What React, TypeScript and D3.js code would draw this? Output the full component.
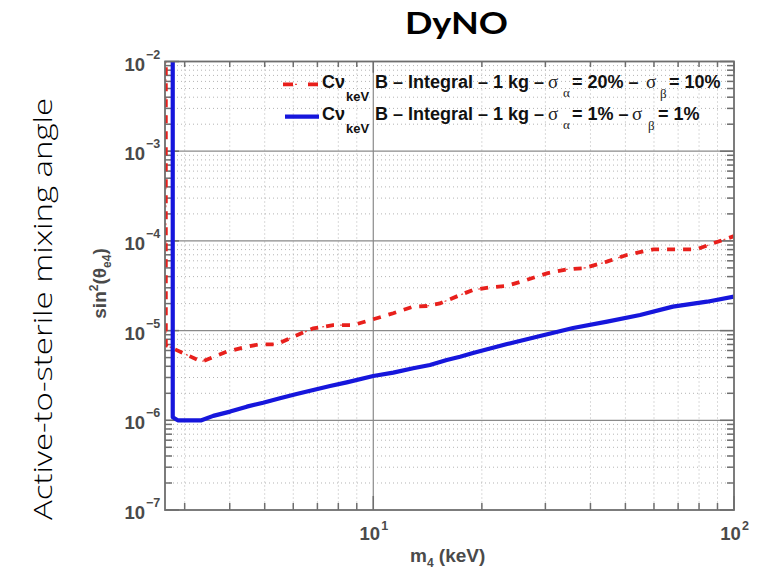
import React from "react";
import * as d3 from "d3";

// ---------- data ----------
const MASS_BLUE = [2.78, 2.78, 2.87, 3.34, 3.6, 4.01, 4.46, 4.95, 5.51, 6.13, 6.82, 7.59, 8.44, 10, 11.36, 12.9, 14.36, 15.98, 17.4, 18.9, 23.5, 29.0, 35.8, 44.5, 54.9, 67.7, 84.2, 100];
const MIX_BLUE = [1.3e-2, 1.08e-6, 1.0e-6, 1.0e-6, 1.12e-6, 1.25e-6, 1.42e-6, 1.57e-6, 1.76e-6, 1.96e-6, 2.18e-6, 2.41e-6, 2.65e-6, 3.12e-6, 3.4e-6, 3.8e-6, 4.14e-6, 4.7e-6, 5.12e-6, 5.62e-6, 7.09e-6, 8.71e-6, 1.07e-5, 1.26e-5, 1.49e-5, 1.85e-5, 2.1e-5, 2.39e-5];

const MASS_RED = [2.66, 2.66, 2.78, 3.34, 3.92, 4.46, 4.85, 5.4, 6.0, 6.82, 7.74, 8.8, 10, 11.36, 12.9, 14.06, 15.3, 17.4, 18.9, 21.1, 23.4, 26.6, 30.3, 34.4, 38.2, 44.4, 50.4, 59.8, 67.9, 78.8, 87.6, 100];
const MIX_RED = [1.3e-2, 6.9e-6, 6.35e-6, 4.5e-6, 5.82e-6, 6.61e-6, 7.03e-6, 7.03e-6, 8.55e-6, 1.06e-5, 1.15e-5, 1.15e-5, 1.34e-5, 1.56e-5, 1.85e-5, 1.88e-5, 2.01e-5, 2.49e-5, 2.84e-5, 3.04e-5, 3.14e-5, 3.67e-5, 4.35e-5, 4.82e-5, 4.95e-5, 5.87e-5, 6.97e-5, 8.06e-5, 8.06e-5, 8.06e-5, 9.4e-5, 1.13e-4];

const X_DOMAIN = [2.646, 100];
const Y_DOMAIN = [1e-7, 1e-2];
const X_TICK_EXP = [1, 2];
const Y_TICK_EXP = [-7, -6, -5, -4, -3, -2];

const TITLE = "DyNO";
const OUTER_YLABEL = "Active-to-sterile mixing angle";

// ---------- layout ----------
const W = 769;
const H = 569;
const L = 165, R = 734, T = 61.5, B = 510;

const FRAME = "#6e6e6e";
const TXT = "#4a4a4a";
const RED = "#e8201c";
const BLUE = "#1616dc";
const SANS = "'Liberation Sans', Arial, Helvetica, sans-serif";
const SERIF = "'Liberation Serif', 'Times New Roman', serif";

export default function App() {
  const x = d3.scaleLog().domain(X_DOMAIN).range([L, R]);
  const y = d3.scaleLog().domain(Y_DOMAIN).range([B, T]);

  const xt = x.ticks().filter((v) => v >= X_DOMAIN[0] && v <= X_DOMAIN[1]);
  const yt = y.ticks();
  const isMajor = (v: number) => Math.abs(Math.log10(v) - Math.round(Math.log10(v))) < 1e-9;

  const line = d3
    .line<[number, number]>()
    .x((d) => x(d[0]))
    .y((d) => y(d[1]))
    .curve(d3.curveLinear);

  const blueData = MASS_BLUE.map((m, i) => [m, MIX_BLUE[i]] as [number, number]);
  const redData = MASS_RED.map((m, i) => [m, MIX_RED[i]] as [number, number]);

  const minorLen = 7;
  const majorLen = 14;

  return (
    <svg
      width={W}
      height={H}
      viewBox={`0 0 ${W} ${H}`}
      style={{ position: "absolute", left: 0, top: 0, background: "#fff" }}
    >
      <defs>
        <clipPath id="plotClip">
          <rect x={L} y={T} width={R - L} height={B - T} />
        </clipPath>
      </defs>
      <rect x={0} y={0} width={W} height={H} fill="#fff" />

      {/* minor dotted grid */}
      <g stroke="#b4b4b4" strokeWidth={1} strokeDasharray="1,3">
        {xt.filter((v) => !isMajor(v)).map((v, i) => (
          <line key={"gx" + i} x1={x(v)} x2={x(v)} y1={T} y2={B} />
        ))}
        {yt.filter((v) => !isMajor(v)).map((v, i) => (
          <line key={"gy" + i} x1={L} x2={R} y1={y(v)} y2={y(v)} />
        ))}
      </g>
      {/* major grid */}
      <g stroke="#8a8a8a" strokeWidth={1.2}>
        {xt.filter((v) => isMajor(v) && x(v) > L + 1 && x(v) < R - 1).map((v, i) => (
          <line key={"Gx" + i} x1={x(v)} x2={x(v)} y1={T} y2={B} />
        ))}
        {yt.filter((v) => isMajor(v) && y(v) > T + 1 && y(v) < B - 1).map((v, i) => (
          <line key={"Gy" + i} x1={L} x2={R} y1={y(v)} y2={y(v)} />
        ))}
      </g>

      {/* ticks */}
      <g stroke={FRAME} strokeWidth={1.5}>
        {xt.map((v, i) => {
          const len = isMajor(v) ? majorLen : minorLen;
          return (
            <g key={"tx" + i}>
              <line x1={x(v)} x2={x(v)} y1={B} y2={B - len} />
              <line x1={x(v)} x2={x(v)} y1={T} y2={T + len * 0.8} />
            </g>
          );
        })}
        {yt.map((v, i) => {
          const len = isMajor(v) ? majorLen : minorLen;
          return (
            <g key={"ty" + i}>
              <line x1={L} x2={L + len} y1={y(v)} y2={y(v)} />
              <line x1={R} x2={R - len} y1={y(v)} y2={y(v)} />
            </g>
          );
        })}
      </g>

      {/* curves */}
      <g clipPath="url(#plotClip)" fill="none">
        <path d={line(redData) || ""} stroke={RED} strokeWidth={1.3} strokeDasharray="0,10,2,6" strokeOpacity={0.8} />
        <path d={line(redData) || ""} stroke={RED} strokeWidth={3.8} strokeDasharray="8,8" />
        <path d={line(blueData) || ""} stroke={BLUE} strokeWidth={4.2} strokeLinejoin="round" />
      </g>

      {/* frame */}
      <rect x={L} y={T} width={R - L} height={B - T} fill="none" stroke={FRAME} strokeWidth={1.8} />

      {/* tick labels */}
      <g fontFamily={SANS} fontWeight="bold" fill={TXT}>
        {Y_TICK_EXP.map((e) => {
          const py = y(Math.pow(10, e));
          return (
            <g key={"yl" + e}>
              <text x={145} y={py + 9} fontSize={18.5} textAnchor="end">10</text>
              <text x={146} y={py - 3} fontSize={12.5}>{"\u2212" + Math.abs(e)}</text>
            </g>
          );
        })}
        {X_TICK_EXP.map((e) => {
          const px = x(Math.pow(10, e));
          return (
            <g key={"xl" + e}>
              <text x={px - 3.5} y={540} fontSize={18.5} textAnchor="middle">10</text>
              <text x={px + 8} y={530} fontSize={12.5}>{String(e)}</text>
            </g>
          );
        })}
      </g>

      {/* axis titles */}
      <text x={410} y={562} fontFamily={SANS} fontWeight="bold" fontSize={19} fill={TXT}>
        m<tspan fontSize={12} dy={5}>4</tspan>
        <tspan dy={-5}> (keV)</tspan>
      </text>
      <text
        transform="translate(105.5,283.5) rotate(-90)"
        textAnchor="middle"
        fontFamily={SANS}
        fontWeight="bold"
        fontSize={19}
        fill={TXT}
      >
        sin<tspan fontSize={12} dy={-8}>2</tspan>
        <tspan dy={8}>(θ</tspan>
        <tspan fontSize={12} dy={5}>e4</tspan>
        <tspan dy={-5}>)</tspan>
      </text>

      {/* outer label */}
      <text
        transform="translate(52,309) rotate(-90)"
        textAnchor="middle"
        fontFamily="'Open Sans', 'Liberation Sans', sans-serif"
        fontWeight={300}
        fontSize={26}
        fill="#000"
        textLength={422}
        lengthAdjust="spacingAndGlyphs"
      >
        {OUTER_YLABEL}
      </text>

      {/* title */}
      <text
        x={456.5}
        y={34}
        textAnchor="middle"
        fontFamily="Lato, 'Open Sans', sans-serif"
        fontWeight="bold"
        fontSize={31}
        fill="#000"
        textLength={103}
        lengthAdjust="spacingAndGlyphs"
      >
        {TITLE}
      </text>

      {/* legend */}
      <g>
        <line x1={283} x2={318} y1={84.3} y2={84.3} stroke={RED} strokeWidth={1.3} strokeDasharray="0,12,2,21" strokeOpacity={0.8} />
        <line x1={283} x2={318} y1={84.3} y2={84.3} stroke={RED} strokeWidth={3.8} strokeDasharray="10,15" />
        <line x1={285} x2={319} y1={116.7} y2={116.7} stroke={BLUE} strokeWidth={4.2} />
        <Legend yb={88} a="= 20% –" aX={572} s2X={646} bX={660} c="= 10%" cX={669} />
        <Legend yb={120} a="= 1% –" aX={572} s2X={632} bX={648} c="= 1%" cX={658} />
      </g>
    </svg>
  );
}

function Legend(props: {
  yb: number;
  a: string;
  aX: number;
  s2X: number;
  bX: number;
  c: string;
  cX: number;
}) {
  const { yb, a, aX, s2X, bX, c, cX } = props;
  const bold = { fontFamily: SANS, fontWeight: "bold" as const, fill: "#111" };
  const greek = { fontFamily: SERIF, fill: "#222" };
  return (
    <g>
      <text x={322} y={yb} fontSize={18} {...bold}>Cν</text>
      <text x={346} y={yb + 13} fontSize={13} {...bold}>keV</text>
      <text x={375} y={yb} fontSize={18} {...bold}>B – Integral – 1 kg –</text>
      <text x={548} y={yb} fontSize={19} {...greek}>σ</text>
      <text x={563} y={yb + 9} fontSize={13} {...greek}>α</text>
      <text x={aX} y={yb} fontSize={18} {...bold}>{a}</text>
      <text x={s2X} y={yb} fontSize={19} {...greek}>σ</text>
      <text x={bX} y={yb + 10} fontSize={13} {...greek}>β</text>
      <text x={cX} y={yb} fontSize={18} {...bold}>{c}</text>
    </g>
  );
}
